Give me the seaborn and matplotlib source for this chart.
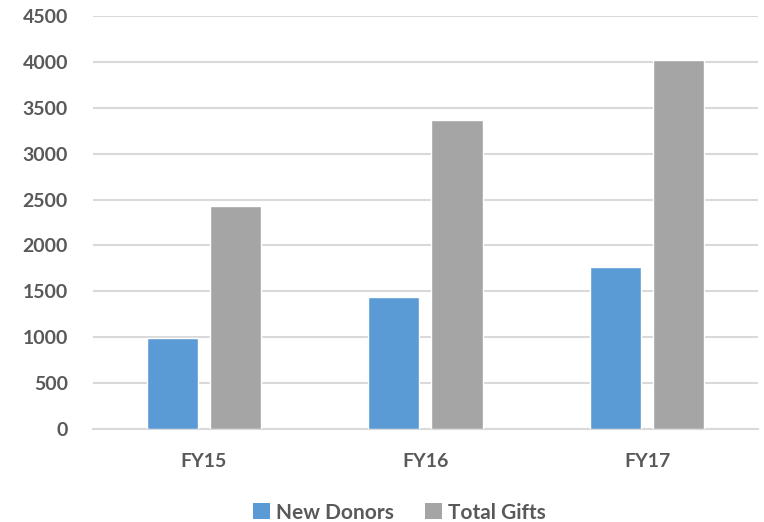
import matplotlib
matplotlib.use("Agg")
import matplotlib.pyplot as plt
from matplotlib.patches import Patch
import seaborn as sns
import pandas as pd

# Fundraising summary by fiscal year
years = ["FY15", "FY16", "FY17"]
new_donors = [995, 1441, 1767]
total_gifts = [2430, 3366, 4018]
series_names = ["New Donors", "Total Gifts"]
colors = ["#5B9BD5", "#A5A5A5"]
y_ticks = list(range(0, 4501, 500))

df = pd.DataFrame({
    "Year": years * 2,
    "Series": [series_names[0]] * len(years) + [series_names[1]] * len(years),
    "Value": new_donors + total_gifts,
})

sns.set_theme(style="white")
plt.rcParams["font.family"] = ["Lato", "DejaVu Sans"]
plt.rcParams["font.weight"] = "bold"

fig = plt.figure(figsize=(7.64, 5.22), dpi=100)
ax = fig.add_axes([0.1217, 0.1775, 0.8703, 0.7925])

sns.barplot(data=df, x="Year", y="Value", hue="Series", palette=colors,
            width=0.57, gap=0.19, saturation=1, legend=False, ax=ax, zorder=3)

ax.set_ylim(0, 4500)
ax.set_yticks(y_ticks)
ax.set_xlim(-0.5, 2.5)
ax.yaxis.grid(True, color="#D9D9D9", linewidth=1.5, zorder=0)
ax.set_axisbelow(True)
for side in ["top", "right", "left"]:
    ax.spines[side].set_visible(False)
ax.spines["bottom"].set_color("#D9D9D9")
ax.spines["bottom"].set_linewidth(1.5)
ax.set_xlabel("")
ax.set_ylabel("")
ax.tick_params(axis="both", length=0, labelsize=14, labelcolor="#595959")
ax.tick_params(axis="y", pad=18)
ax.tick_params(axis="x", pad=17)
for lbl in ax.get_xticklabels() + ax.get_yticklabels():
    lbl.set_fontweight("bold")

handles = [Patch(facecolor=c, edgecolor="none") for c in colors]
fig.legend(handles, series_names, loc="lower center", bbox_to_anchor=(0.523, -0.037),
           ncol=2, frameon=False, prop={"size": 15, "weight": "bold"}, labelcolor="#595959",
           handlelength=0.8, handleheight=0.8, handletextpad=0.3, columnspacing=1.5)

fig.savefig("out.png", dpi=100)
